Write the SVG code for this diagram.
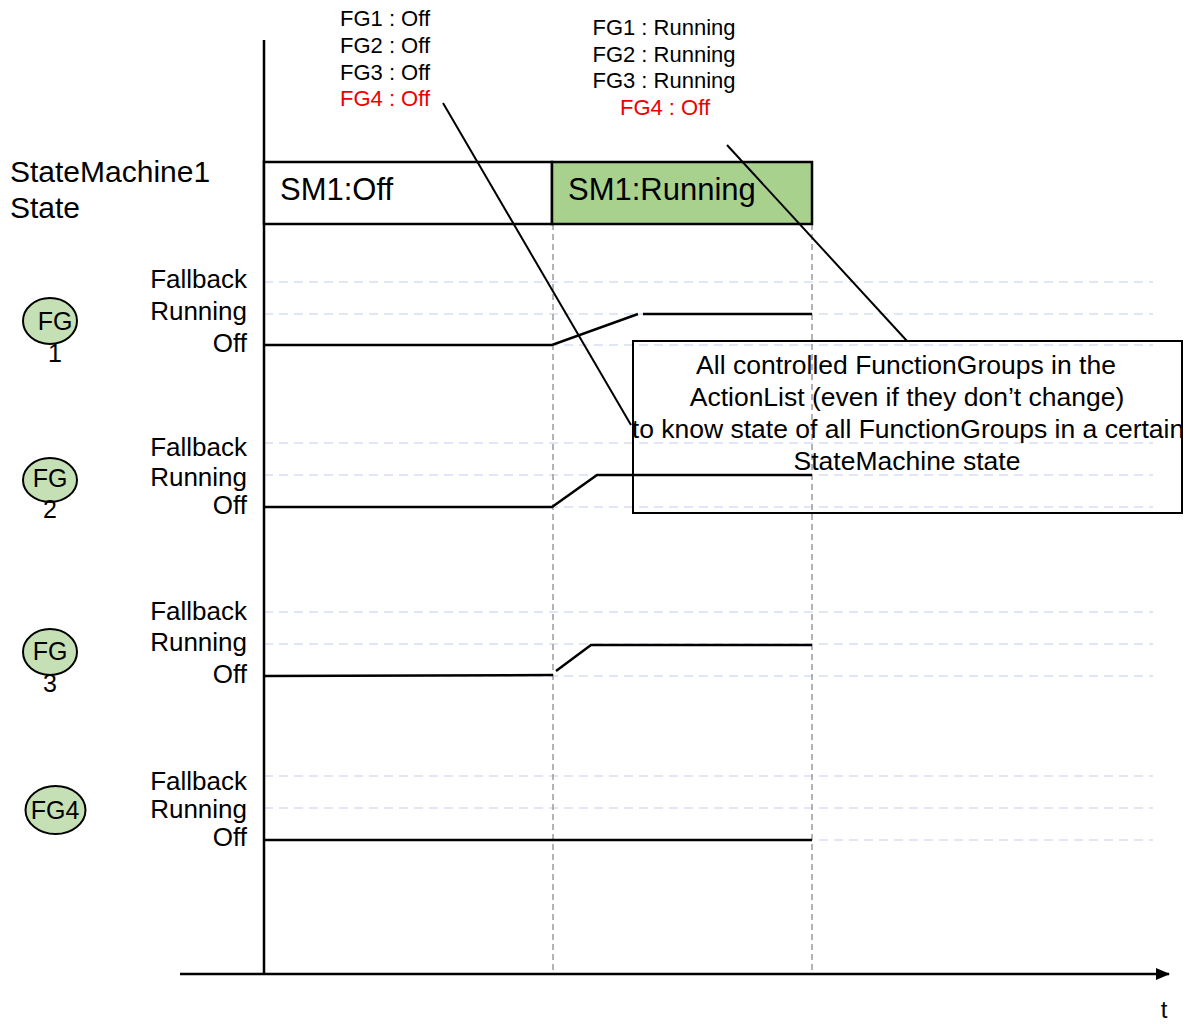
<svg xmlns="http://www.w3.org/2000/svg" width="1191" height="1024" viewBox="0 0 1191 1024">
  <defs>
    <style>
      text { font-family: "Liberation Sans", Arial, sans-serif; fill: #000; }
      .lvl { font-size: 26px; text-anchor: end; }
      .fg { font-size: 25px; text-anchor: middle; }
      .big { font-size: 30px; }
      .sm { font-size: 31px; }
      .list { font-size: 22px; }
      .red { fill: #EE0000; }
      .note { font-size: 26.5px; text-anchor: middle; }
      .grid { stroke: #C2CEEC; stroke-width: 1.2; stroke-dasharray: 9 6; fill: none; }
      .tick { stroke: #9A9A9A; stroke-width: 1.5; stroke-dasharray: 6 4; fill: none; }
      .sig { stroke: #000; stroke-width: 2.5; fill: none; }
      .axis { stroke: #000; stroke-width: 2.5; fill: none; }
      .lead { stroke: #000; stroke-width: 2; fill: none; }
      .bubble { fill: #C5E0B4; stroke: #000; stroke-width: 2; }
    </style>
    <marker id="arrow" markerWidth="14" markerHeight="12" refX="13" refY="6" orient="auto" markerUnits="userSpaceOnUse">
      <path d="M0,0 L14,6 L0,12 Z" fill="#000"/>
    </marker>
  </defs>

  <rect width="1191" height="1024" fill="#fff"/>

  <!-- level grid lines -->
  <g id="grid">
    <path class="grid" d="M264,282H1153 M264,314H1153 M264,345H1153"/>
    <path class="grid" d="M264,443H1153 M264,475H1153 M264,507H1153"/>
    <path class="grid" d="M264,612H1153 M264,644H1153 M264,676H1153"/>
    <path class="grid" d="M264,776H1153 M264,808H1153 M264,840H1153"/>
  </g>

  <!-- time markers -->
  <g id="time-markers">
    <line class="tick" x1="553" y1="224" x2="553" y2="975"/>
    <line class="tick" x1="812" y1="224" x2="812" y2="975"/>
  </g>

  <!-- axes -->
  <g id="axes">
    <line class="axis" x1="264" y1="40" x2="264" y2="975"/>
    <line class="axis" x1="180" y1="974" x2="1169" y2="974" marker-end="url(#arrow)"/>
    <text x="1164" y="1018" font-size="24" text-anchor="middle">t</text>
  </g>

  <!-- state machine row -->
  <g id="sm1-state">
    <text class="big" x="10" y="182">StateMachine1</text>
    <text class="big" x="10" y="218">State</text>
  </g>
  <g id="sm1-off">
    <rect x="264" y="162" width="288" height="62" fill="#fff" stroke="#000" stroke-width="2.5"/>
    <text class="sm" x="280" y="200">SM1:Off</text>
  </g>
  <g id="sm1-running">
    <rect x="552" y="162" width="260" height="62" fill="#A9D18E" stroke="#000" stroke-width="2.5"/>
    <text class="sm" x="568" y="200">SM1:Running</text>
  </g>

  <!-- function group 1 -->
  <g id="fg1">
    <ellipse class="bubble" cx="50" cy="321" rx="27" ry="23"/>
    <text class="fg" x="55" y="330">FG</text>
    <text class="fg" x="55" y="362">1</text>
    <text class="lvl" x="247" y="288">Fallback</text>
    <text class="lvl" x="247" y="320">Running</text>
    <text class="lvl" x="247" y="352">Off</text>
    <path class="sig" d="M264,345H552L638,314 M643,314H812"/>
  </g>

  <!-- function group 2 -->
  <g id="fg2">
    <ellipse class="bubble" cx="50" cy="480" rx="27" ry="22"/>
    <text class="fg" x="50" y="487">FG</text>
    <text class="fg" x="50" y="518">2</text>
    <text class="lvl" x="247" y="456">Fallback</text>
    <text class="lvl" x="247" y="486">Running</text>
    <text class="lvl" x="247" y="514">Off</text>
    <path class="sig" d="M264,507H552L597,475H812"/>
  </g>

  <!-- function group 3 -->
  <g id="fg3">
    <ellipse class="bubble" cx="50" cy="652" rx="27" ry="23"/>
    <text class="fg" x="50" y="660">FG</text>
    <text class="fg" x="50" y="692">3</text>
    <text class="lvl" x="247" y="620">Fallback</text>
    <text class="lvl" x="247" y="651">Running</text>
    <text class="lvl" x="247" y="683">Off</text>
    <path class="sig" d="M264,676L553,675 M556,671L591,645H812"/>
  </g>

  <!-- function group 4 -->
  <g id="fg4">
    <ellipse class="bubble" cx="55.500" cy="810" rx="30" ry="24"/>
    <text class="fg" x="55" y="819">FG4</text>
    <text class="lvl" x="247" y="790">Fallback</text>
    <text class="lvl" x="247" y="818">Running</text>
    <text class="lvl" x="247" y="846">Off</text>
    <path class="sig" d="M264,840H812"/>
  </g>

  <!-- group states while SM1 is Off -->
  <g id="states-off">
    <text class="list" x="340" y="26">FG1 : Off</text>
    <text class="list" x="340" y="53">FG2 : Off</text>
    <text class="list" x="340" y="80">FG3 : Off</text>
    <text class="list red" x="340" y="106">FG4 : Off</text>
  </g>

  <!-- group states while SM1 is Running -->
  <g id="states-running">
    <text class="list" x="664" y="35" text-anchor="middle">FG1 : Running</text>
    <text class="list" x="664" y="62" text-anchor="middle">FG2 : Running</text>
    <text class="list" x="664" y="88" text-anchor="middle">FG3 : Running</text>
    <text class="list red" x="665" y="115" text-anchor="middle">FG4 : Off</text>
  </g>

  <!-- explanatory note -->
  <g id="note">
    <rect x="633" y="341" width="549" height="172" fill="none" stroke="#000" stroke-width="2"/>
    <text class="note" x="906" y="374">All controlled FunctionGroups in the</text>
    <text class="note" x="907" y="406">ActionList (even if they don’t change)</text>
    <text class="note" x="908" y="438">to know state of all FunctionGroups in a certain</text>
    <text class="note" x="907" y="470">StateMachine state</text>
  </g>

  <!-- leader lines from the state lists to the note -->
  <g id="connectors">
    <line class="lead" x1="443" y1="103" x2="631" y2="425"/>
    <line class="lead" x1="727" y1="145" x2="907" y2="341"/>
  </g>
</svg>
